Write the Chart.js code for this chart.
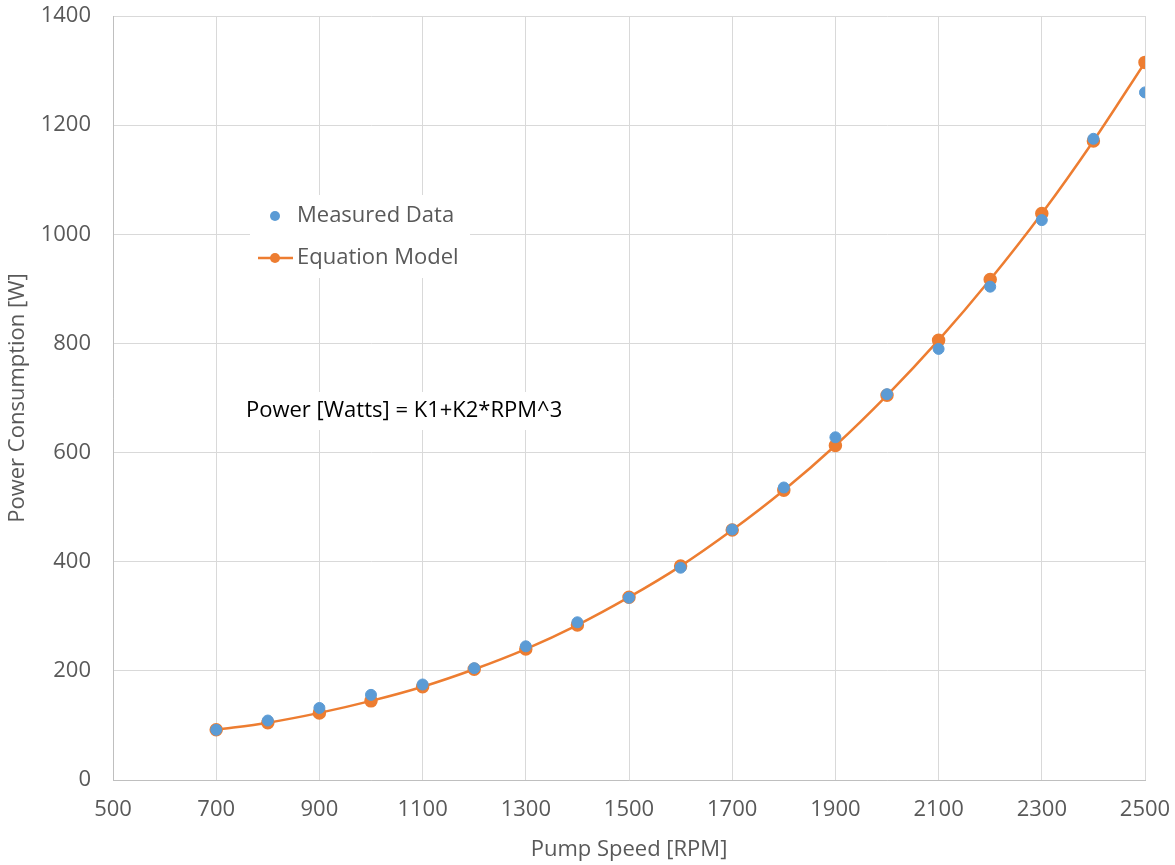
<!DOCTYPE html>
<html>
<head>
<meta charset="utf-8">
<script src="https://cdn.jsdelivr.net/npm/chart.js@4.4.0/dist/chart.umd.min.js"></script>
<style>
  body { margin: 0; background: #fff; }
  #wrap { width: 1175px; height: 865px; }
</style>
</head>
<body>
<div id="wrap"><canvas id="myChart"></canvas></div>
<script>
var rpm = [700, 800, 900, 1000, 1100, 1200, 1300, 1400, 1500, 1600, 1700, 1800, 1900, 2000, 2100, 2200, 2300, 2400, 2500];
var measured = [92, 109, 132, 156, 175, 205, 245, 289, 334, 389, 459, 536, 628, 707, 790, 904, 1026, 1175, 1260];
var model = [92, 105, 123, 145, 171, 203, 240, 284, 335, 392, 458, 531, 613, 705, 806, 917, 1038, 1171, 1315];
var xTicks = [500, 700, 900, 1100, 1300, 1500, 1700, 1900, 2100, 2300, 2500];
var yTicks = [0, 200, 400, 600, 800, 1000, 1200, 1400];

var blue = '#5B9BD5', orange = '#ED7D31', grey = '#595959';
var fontFam = "'Open Sans', sans-serif";

function pts(ys) {
  return rpm.map(function (x, i) { return { x: x, y: ys[i] }; });
}

// legend box + equation text drawn inside the plot area
var overlay = {
  id: 'overlay',
  afterDraw: function (chart) {
    var c = chart.ctx;
    c.save();
    c.fillStyle = '#fff';
    c.fillRect(250, 195, 220, 83);
    c.fillRect(240, 392, 336, 38);

    c.font = '22px ' + fontFam;
    c.textBaseline = 'middle';
    c.fillStyle = blue;
    c.beginPath(); c.arc(275, 216, 5, 0, Math.PI * 2); c.fill();
    c.strokeStyle = orange; c.lineWidth = 2.5;
    c.beginPath(); c.moveTo(258, 258); c.lineTo(293, 258); c.stroke();
    c.fillStyle = orange;
    c.beginPath(); c.arc(275, 258, 5, 0, Math.PI * 2); c.fill();
    c.fillStyle = grey;
    c.fillText('Measured Data', 297, 216);
    c.fillText('Equation Model', 297, 258);

    c.fillStyle = '#000';
    c.fillText('Power [Watts] = K1+K2*RPM^3', 246, 411);
    c.restore();
  }
};

var ctx = document.getElementById('myChart').getContext('2d');
var myChart = new Chart(ctx, {
  type: 'scatter',
  data: {
    datasets: [{
      label: 'Measured Data',
      data: pts(measured),
      backgroundColor: blue,
      borderColor: blue,
      pointRadius: 5.5,
      showLine: false
    }, {
      label: 'Equation Model',
      data: pts(model),
      backgroundColor: orange,
      borderColor: orange,
      borderWidth: 2.5,
      pointRadius: 5.5,
      showLine: true,
      cubicInterpolationMode: 'monotone'
    }]
  },
  options: {
    responsive: true,
    maintainAspectRatio: false,
    animation: false,
    layout: { padding: { top: 16, right: 30, left: 0, bottom: 0 } },
    plugins: { legend: { display: false }, tooltip: { enabled: false } },
    scales: {
      x: {
        type: 'linear', min: 500, max: 2500,
        afterBuildTicks: function (s) { s.ticks = xTicks.map(function (v) { return { value: v }; }); },
        afterFit: function (s) { s.height = 85; s.paddingLeft = 0; s.paddingRight = 0; },
        grid: { color: '#d9d9d9', drawTicks: false },
        border: { color: '#bfbfbf' },
        ticks: { color: grey, padding: 17, font: { family: fontFam, size: 22 },
                 callback: function (v) { return String(v); } },
        title: { display: true, text: 'Pump Speed [RPM]', color: grey, font: { family: fontFam, size: 22 }, padding: { top: 0, bottom: 2 } }
      },
      y: {
        min: 0, max: 1400,
        afterBuildTicks: function (s) { s.ticks = yTicks.map(function (v) { return { value: v }; }); },
        afterFit: function (s) { s.width = 113; s.paddingTop = 0; s.paddingBottom = 0; },
        grid: { color: '#d9d9d9', drawTicks: false },
        border: { color: '#bfbfbf' },
        ticks: { color: grey, padding: 22, font: { family: fontFam, size: 22 },
                 callback: function (v) { return String(v); } },
        title: { display: true, text: 'Power Consumption [W]', color: grey, font: { family: fontFam, size: 22 }, padding: { top: 5, bottom: 0 } }
      }
    }
  },
  plugins: [overlay]
});
</script>
</body>
</html>
